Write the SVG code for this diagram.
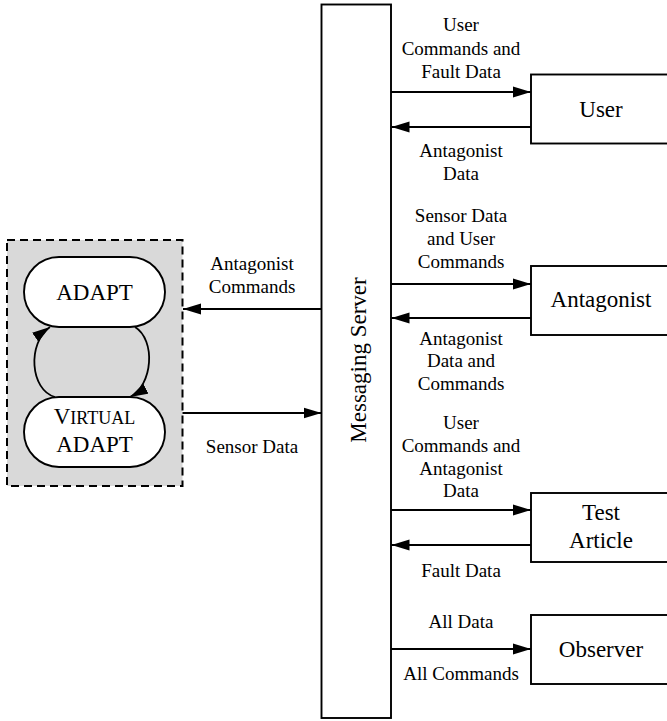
<svg xmlns="http://www.w3.org/2000/svg" width="667" height="721" viewBox="0 0 667 721" font-family="'Liberation Serif', 'DejaVu Serif', serif">
<style>
text { font-family: 'Liberation Serif', 'DejaVu Serif', serif; fill: #000; }
.lbl { font-size: 19px; text-anchor: middle; }
.big { font-size: 23px; text-anchor: middle; }
.box { fill: #fff; stroke: #000; stroke-width: 1.9; }
.conn { fill: none; stroke: #000; stroke-width: 1.8; }
</style>
<defs>
<marker id="ah" markerUnits="userSpaceOnUse" markerWidth="20" markerHeight="14" refX="18" refY="6" orient="auto">
<path d="M0,0.5 L18,6 L0,11.5 z" fill="#000"/>
</marker>
</defs>
<g id="adapt-group">
<rect x="7" y="240" width="175.5" height="246" fill="#d9d9d9" stroke="#000" stroke-width="2" stroke-dasharray="8,5"/>
</g>
<g id="adapt">
<rect class="box" x="24" y="257" width="141" height="70" rx="35" ry="35"/>
<text class="big" x="94.5" y="300">ADAPT</text>
</g>
<g id="virtual-adapt">
<rect class="box" x="24" y="397" width="141" height="70" rx="35" ry="35"/>
<text class="big" x="94.5" y="424"><tspan>V</tspan><tspan font-size="18">IRTUAL</tspan></text>
<text class="big" x="94.5" y="452">ADAPT</text>
</g>
<g id="messaging-server">
<rect class="box" x="321.5" y="4.5" width="69.5" height="713.5"/>
<text class="big" transform="translate(366,360) rotate(-90)" x="0" y="0">Messaging Server</text>
</g>
<g id="user">
<rect class="box" x="531" y="74.5" width="140" height="69"/>
<text class="big" x="601" y="117">User</text>
</g>
<g id="antagonist">
<rect class="box" x="531" y="266" width="140" height="69"/>
<text class="big" x="601" y="307">Antagonist</text>
</g>
<g id="test-article">
<rect class="box" x="531" y="493" width="140" height="69"/>
<text class="big" x="601" y="520">Test</text>
<text class="big" x="601" y="548">Article</text>
</g>
<g id="observer">
<rect class="box" x="531" y="615" width="140" height="69"/>
<text class="big" x="601" y="657">Observer</text>
</g>
<g id="connectors">
<path class="conn" d="M55,397 C30,390 27,343 50,327" marker-end="url(#ah)"/>
<path class="conn" d="M135,327 C156,340 153,385 130,397" marker-end="url(#ah)"/>
<line class="conn" x1="321.5" y1="309" x2="183" y2="309" marker-end="url(#ah)"/>
<line class="conn" x1="182.5" y1="413" x2="321.5" y2="413" marker-end="url(#ah)"/>
<line class="conn" x1="391" y1="92" x2="531" y2="92" marker-end="url(#ah)"/>
<line class="conn" x1="531" y1="127" x2="391.5" y2="127" marker-end="url(#ah)"/>
<line class="conn" x1="391" y1="284" x2="531" y2="284" marker-end="url(#ah)"/>
<line class="conn" x1="531" y1="318" x2="391.5" y2="318" marker-end="url(#ah)"/>
<line class="conn" x1="391" y1="510" x2="531" y2="510" marker-end="url(#ah)"/>
<line class="conn" x1="531" y1="545" x2="391.5" y2="545" marker-end="url(#ah)"/>
<line class="conn" x1="391" y1="649" x2="531" y2="649" marker-end="url(#ah)"/>
</g>
<g id="labels">
<text class="lbl" x="252" y="270">Antagonist</text>
<text class="lbl" x="252" y="293">Commands</text>
<text class="lbl" x="252" y="453">Sensor Data</text>
<text class="lbl" x="461" y="31">User</text>
<text class="lbl" x="461" y="55">Commands and</text>
<text class="lbl" x="461" y="78">Fault Data</text>
<text class="lbl" x="461" y="157">Antagonist</text>
<text class="lbl" x="461" y="180">Data</text>
<text class="lbl" x="461" y="222">Sensor Data</text>
<text class="lbl" x="461" y="245">and User</text>
<text class="lbl" x="461" y="268">Commands</text>
<text class="lbl" x="461" y="345">Antagonist</text>
<text class="lbl" x="461" y="367">Data and</text>
<text class="lbl" x="461" y="390">Commands</text>
<text class="lbl" x="461" y="429">User</text>
<text class="lbl" x="461" y="452">Commands and</text>
<text class="lbl" x="461" y="475">Antagonist</text>
<text class="lbl" x="461" y="497">Data</text>
<text class="lbl" x="461" y="577">Fault Data</text>
<text class="lbl" x="461" y="628">All Data</text>
<text class="lbl" x="461" y="680">All Commands</text>
</g>
</svg>
